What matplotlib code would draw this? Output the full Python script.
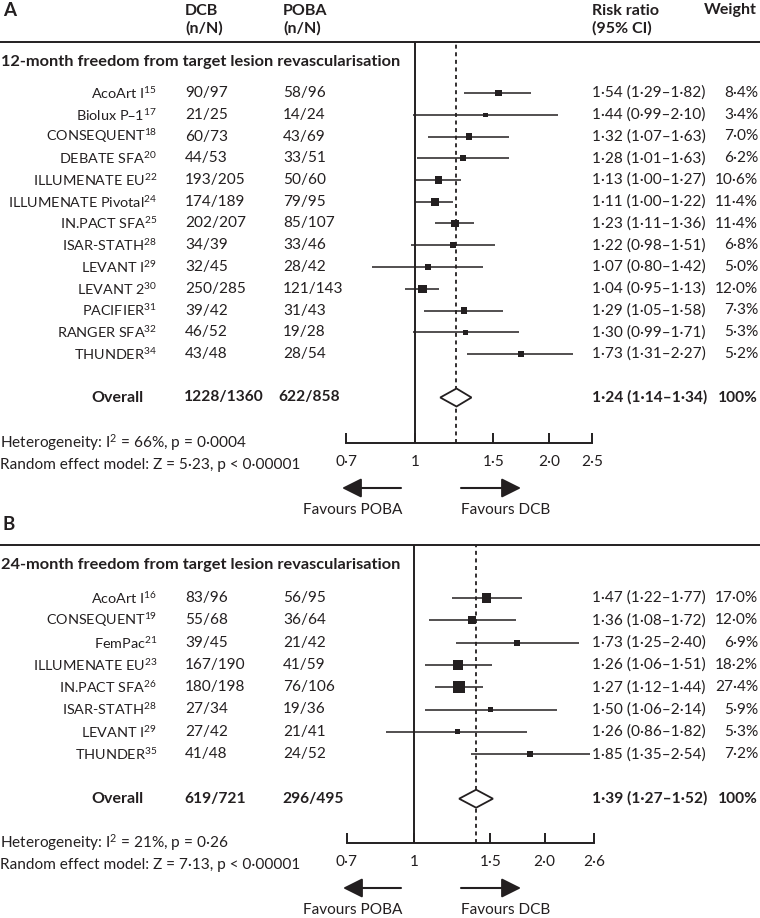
import numpy as np
import matplotlib
matplotlib.use('Agg')
import matplotlib.pyplot as plt
from matplotlib.ticker import NullLocator

plt.rcParams['font.family'] = ['Lato', 'DejaVu Sans']
plt.rcParams['mathtext.default'] = 'regular'

INK = '#231f20'
W, H = 760, 918
FS = 11.1      # numbers, notes
NFS = 10.4     # study names
BFS = 11.5     # bold headers
TFS = 11.8     # section titles

# ---- panel A: 12-month data
studies_a = ["AcoArt I", "Biolux P\u20131", "CONSEQUENT", "DEBATE SFA", "ILLUMENATE EU",
             "ILLUMENATE Pivotal", "IN.PACT SFA", "ISAR-STATH", "LEVANT I", "LEVANT 2",
             "PACIFIER", "RANGER SFA", "THUNDER"]
refs_a = [15, 17, 18, 20, 22, 24, 25, 28, 29, 30, 31, 32, 34]
dcb_a = ["90/97", "21/25", "60/73", "44/53", "193/205", "174/189", "202/207", "34/39",
         "32/45", "250/285", "39/42", "46/52", "43/48"]
poba_a = ["58/96", "14/24", "43/69", "33/51", "50/60", "79/95", "85/107", "33/46",
          "28/42", "121/143", "31/43", "19/28", "28/54"]
rr_a = [1.54, 1.44, 1.32, 1.28, 1.13, 1.11, 1.23, 1.22, 1.07, 1.04, 1.29, 1.30, 1.73]
lo_a = [1.29, 0.99, 1.07, 1.01, 1.00, 1.00, 1.11, 0.98, 0.80, 0.95, 1.05, 0.99, 1.31]
hi_a = [1.82, 2.10, 1.63, 1.63, 1.27, 1.22, 1.36, 1.51, 1.42, 1.13, 1.58, 1.71, 2.27]
wt_a = [8.4, 3.4, 7.0, 6.2, 10.6, 11.4, 11.4, 6.8, 5.0, 12.0, 7.3, 5.3, 5.2]
tot_a = ("1228/1360", "622/858", 1.24, 1.14, 1.34)
stats_a = ("Heterogeneity: I$^2$ = 66%, p = 0\u00b70004",
           "Random effect model: Z = 5\u00b723, p < 0\u00b700001")
ticks_a = [0.7, 1, 1.5, 2.0, 2.5]
ticklab_a = ["0\u00b77", "1", "1\u00b75", "2\u00b70", "2\u00b75"]

# ---- panel B: 24-month data
studies_b = ["AcoArt I", "CONSEQUENT", "FemPac", "ILLUMENATE EU", "IN.PACT SFA",
             "ISAR-STATH", "LEVANT I", "THUNDER"]
refs_b = [16, 19, 21, 23, 26, 28, 29, 35]
dcb_b = ["83/96", "55/68", "39/45", "167/190", "180/198", "27/34", "27/42", "41/48"]
poba_b = ["56/95", "36/64", "21/42", "41/59", "76/106", "19/36", "21/41", "24/52"]
rr_b = [1.47, 1.36, 1.73, 1.26, 1.27, 1.50, 1.26, 1.85]
lo_b = [1.22, 1.08, 1.25, 1.06, 1.12, 1.06, 0.86, 1.35]
hi_b = [1.77, 1.72, 2.40, 1.51, 1.44, 2.14, 1.82, 2.54]
wt_b = [17.0, 12.0, 6.9, 18.2, 27.4, 5.9, 5.3, 7.2]
tot_b = ("619/721", "296/495", 1.39, 1.27, 1.52)
stats_b = ("Heterogeneity: I$^2$ = 21%, p = 0\u00b726",
           "Random effect model: Z = 7\u00b713, p < 0\u00b700001")
ticks_b = [0.7, 1, 1.5, 2.0, 2.6]
ticklab_b = ["0\u00b77", "1", "1\u00b75", "2\u00b70", "2\u00b76"]


fig = plt.figure(figsize=(W / 100, H / 100), dpi=100)
bg = fig.add_axes([0, 0, 1, 1])
bg.set_xlim(0, W)
bg.set_ylim(H, 0)
bg.axis('off')


def dot(v):
    return '{:.2f}'.format(v).replace('.', '\u00b7')


def txt(x, y, s, **kw):
    kw.setdefault('fontsize', FS)
    bg.text(x, y, s, va='center', color=INK, **kw)


def panel(letter, letter_y, line_y, title, row0, step, axis_y, x0, x1, xmax,
          ticks, ticklab, names, refs, dcb, poba, rr, lo, hi, wt, tot, stats,
          dcb_x, poba_x, tot_poba_x):
    n = len(names)
    rows = np.arange(n)
    ov = n + 1
    ypix = row0 + rows * step
    ov_pix = row0 + ov * step

    txt(3, letter_y, letter, fontsize=13.5, fontweight='bold')
    bg.plot([0, W], [line_y, line_y], color=INK, lw=1.4)
    txt(1, line_y + 20, title, fontsize=TFS, fontweight='bold')

    for i in range(n):
        txt(157, ypix[i], '{}$^{{{}}}$'.format(names[i], refs[i]), ha='right', fontsize=NFS)
        txt(dcb_x, ypix[i], dcb[i])
        txt(poba_x, ypix[i], poba[i])
        txt(592, ypix[i], '{} ({}\u2013{})'.format(dot(rr[i]), dot(lo[i]), dot(hi[i])))
        txt(758, ypix[i], '{:.1f}%'.format(wt[i]).replace('.', '\u00b7'), ha='right')
    txt(143, ov_pix, 'Overall', ha='right', fontweight='bold', fontsize=BFS)
    txt(dcb_x - 1, ov_pix, tot[0], fontweight='bold', fontsize=11.2)
    txt(tot_poba_x, ov_pix, tot[1], fontweight='bold', fontsize=11.2)
    txt(592, ov_pix, '{} ({}\u2013{})'.format(dot(tot[2]), dot(tot[3]), dot(tot[4])),
        fontweight='bold', fontsize=11.2)
    txt(758, ov_pix, '100%', ha='right', fontweight='bold', fontsize=11.2)

    txt(0, axis_y, stats[0])
    txt(0, axis_y + 22, stats[1])

    # forest plot axes
    ax = fig.add_axes([x0 / W, 1 - axis_y / H, (x1 - x0) / W, (axis_y - line_y) / H])
    ax.patch.set_alpha(0)
    ax.set_xscale('log')
    ax.set_xlim(0.7, xmax)
    ax.set_ylim((axis_y - row0) / step, (line_y - row0) / step)
    for s in ['top', 'right', 'left']:
        ax.spines[s].set_visible(False)
    ax.spines['bottom'].set_linewidth(1.4)
    ax.spines['bottom'].set_color(INK)
    ax.set_xticks(ticks, ticklab)
    ax.xaxis.set_minor_locator(NullLocator())
    ax.tick_params(axis='x', direction='in', length=7, width=1.4, color=INK,
                   labelsize=FS, labelcolor=INK, pad=9)
    ax.set_yticks([])

    ax.axvline(1, color=INK, lw=1.4)
    ax.axvline(tot[2], color=INK, lw=1.3, ls=(0, (2.2, 2.0)))
    ax.hlines(rows, lo, hi, color=INK, lw=1.1, clip_on=False)
    ax.scatter(rr, rows, s=np.array(wt) * 2.8, marker='s', color=INK, zorder=3,
               linewidths=0, clip_on=False)
    h = 9.0 / step
    ax.fill([tot[3], tot[2], tot[4], tot[2]], [ov, ov - h, ov, ov + h],
            facecolor='white', edgecolor=INK, lw=1.3, zorder=3)

    # favours arrows
    ay = axis_y + 45
    bg.annotate('', xy=(x0 - 4, ay), xytext=(401, ay),
                arrowprops=dict(arrowstyle='-|>,head_length=0.7,head_width=0.35',
                                color=INK, lw=1.5, mutation_scale=17, shrinkA=0, shrinkB=0))
    bg.annotate('', xy=(521, ay), xytext=(461, ay),
                arrowprops=dict(arrowstyle='-|>,head_length=0.7,head_width=0.35',
                                color=INK, lw=1.5, mutation_scale=17, shrinkA=0, shrinkB=0))
    txt(402, axis_y + 67, 'Favours POBA', ha='right')
    txt(461, axis_y + 67, 'Favours DCB')


# column headers (top panel only)
for x, a, b in [(185, 'DCB', '(n/N)'), (283, 'POBA', '(n/N)'), (592, 'Risk ratio', '(95% CI)')]:
    txt(x, 11, a, fontweight='bold', fontsize=BFS)
    txt(x, 28, b, fontweight='bold', fontsize=BFS)
txt(757, 10, 'Weight', ha='right', fontweight='bold', fontsize=BFS)

panel('A', 11, 42, '12-month freedom from target lesion revascularisation',
      93, 21.75, 443, 346, 592, 2.5, ticks_a, ticklab_a,
      studies_a, refs_a, dcb_a, poba_a, rr_a, lo_a, hi_a, wt_a, tot_a, stats_a,
      185, 283, 278)

panel('B', 524, 545, '24-month freedom from target lesion revascularisation',
      598, 22.3, 843, 347, 594, 2.6, ticks_b, ticklab_b,
      studies_b, refs_b, dcb_b, poba_b, rr_b, lo_b, hi_b, wt_b, tot_b, stats_b,
      185, 283, 282)

fig.savefig('out.png', dpi=100)
